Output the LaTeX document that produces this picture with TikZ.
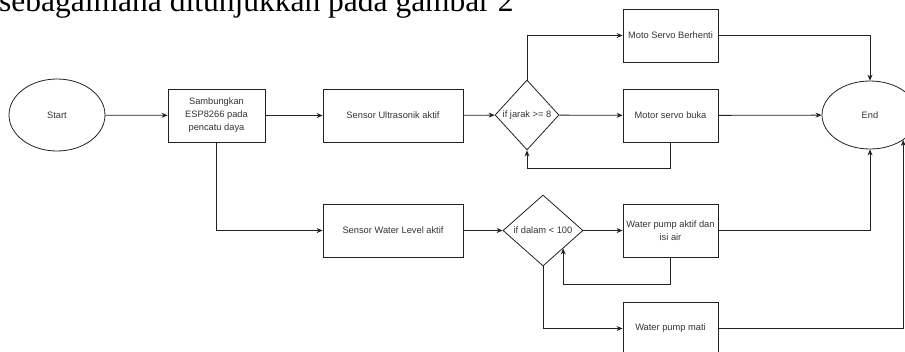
\documentclass[tikz,border=0pt]{standalone}
\usepackage{fontspec}
\setmainfont{Liberation Serif}
\newfontfamily\arialf{Liberation Sans}
\usetikzlibrary{shapes.geometric,arrows.meta,calc}
\definecolor{ln}{HTML}{222222}
\definecolor{tx}{HTML}{333333}
\tikzset{
  base/.style={draw=ln, line width=0.8pt, font=\arialf\fontsize{9.3}{13}\selectfont, text=tx, align=center, inner sep=1pt},
  procbox/.style={base, rectangle, minimum width=95pt, minimum height=53pt},
  widebox/.style={base, rectangle, minimum width=140pt, minimum height=53pt},
  term/.style={base, ellipse, inner sep=0pt, minimum width=96pt, minimum height=72pt},
  decide/.style={base, diamond, inner sep=0pt},
  arr/.style={draw=ln, line width=0.8pt, -{Stealth[length=6pt,width=5pt]}},
}
\begin{document}
\begin{tikzpicture}[x=1pt,y=1pt]
\useasboundingbox (0,0) rectangle (905,-351);
\node[anchor=base west, font=\fontsize{31.5}{34}\selectfont, inner sep=0pt] (hdr) at (-1,-11.5) {sebagaimana ditunjukkan pada gambar 2};

\node[term] (start) at (57,-115) {Start};
\node[procbox, minimum width=97pt] (sam) at (216.5,-115.5) {Sambungkan\\ESP8266 pada\\pencatu daya};
\node[widebox] (ultra) at (393,-115.5) {Sensor Ultrasonik aktif};
\node[decide, minimum width=64pt, minimum height=70pt] (d1) at (527,-115) {if jarak >= 8};
\node[procbox] (berhenti) at (670.5,-35.5) {Moto Servo Berhenti};
\node[procbox] (buka) at (670.5,-115.5) {Motor servo buka};
\node[term, minimum height=68pt] (end) at (870,-115) {End};

\node[widebox] (wl) at (393,-230.5) {Sensor Water Level aktif};
\node[decide, minimum width=80pt, minimum height=71pt] (d2) at (543,-230.5) {if dalam < 100};
\node[procbox] (aktif) at (670.5,-230.5) {Water pump aktif dan\\isi air};
\node[procbox] (mati) at (670.5,-328.5) {Water pump mati};

\draw[arr] (start) -- (sam);
\draw[arr] (sam) -- (ultra);
\draw[arr] (sam.south) |- (wl.west);
\draw[arr] (ultra) -- (d1);
\draw[arr] (d1.north) |- (berhenti.west);
\draw[arr] (d1) -- (buka);
\draw[arr] (buka.south) -- ++(0,-26) -| (d1.south);
\draw[arr] (berhenti.east) -| (end.north);
\draw[arr] (buka) -- (end);
\draw[arr] (wl) -- (d2);
\draw[arr] (d2) -- (aktif);
\draw[arr] (aktif.south) -- ++(0,-27) -| (d2.south east);
\draw[arr] (aktif.east) -| (end.south);
\draw[arr] (d2.south) |- (mati.west);
\draw[arr] (mati.east) -| (end.-37);
\end{tikzpicture}
\end{document}
